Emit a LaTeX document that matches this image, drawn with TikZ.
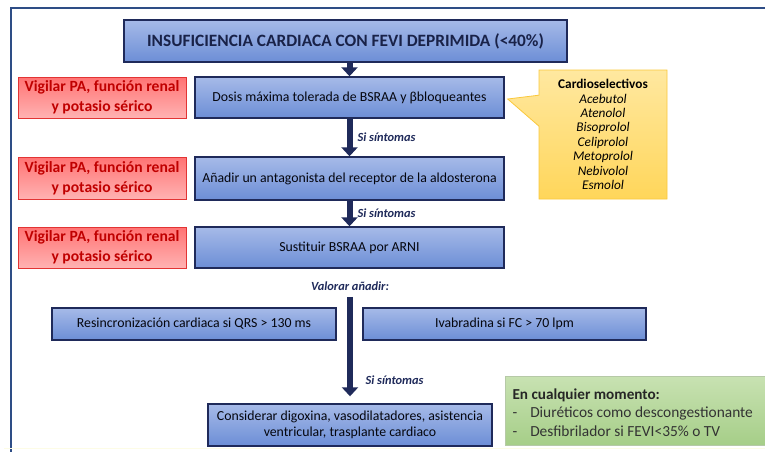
\documentclass[tikz,border=0pt]{standalone}
\usepackage{fontspec}
\setmainfont{Carlito}
\usetikzlibrary{arrows.meta,shapes.callouts}

\definecolor{navy}{RGB}{31,42,90}
\definecolor{framecol}{RGB}{46,77,134}
\definecolor{boxtop}{RGB}{166,186,232}
\definecolor{boxbot}{RGB}{108,142,214}
\definecolor{redtxt}{RGB}{192,0,0}
\definecolor{redline}{RGB}{226,52,52}
\definecolor{yeltop}{RGB}{255,232,160}
\definecolor{yelbot}{RGB}{255,214,90}
\definecolor{yelline}{RGB}{250,200,60}
\definecolor{grntop}{RGB}{200,226,178}
\definecolor{grnbot}{RGB}{166,206,136}

\tikzset{
  bluebox/.style={draw=navy, line width=1.4pt, top color=boxtop, bottom color=boxbot,
    text=black!85!navy, align=center, inner sep=0pt, font=\fontsize{13.8}{16}\selectfont},
  redbox/.style={draw=redline, line width=1pt, top color=red!55!white, middle color=red!12!white,
    bottom color=red!30!white, text=redtxt, align=center, inner sep=0pt,
    minimum width=168pt, font=\bfseries\fontsize{15.6}{20}\selectfont},
  flow/.style={-{Triangle[width=16pt,length=9pt]}, line width=6pt, navy},
  sitxt/.style={text=navy, font=\bfseries\itshape\fontsize{12.4}{14}\selectfont, anchor=west}
}

\begin{document}
\begin{tikzpicture}[x=1pt,y=-1pt]
    \useasboundingbox (0,0) rectangle (765,452);

    % Frame round the diagram
    \draw[framecol, line width=2.5pt] (11,452) -- (11,8) -- (770,8);
    \draw[black!8!yellow!10!white, line width=1pt] (4,448) -- (770,448);

    % Title
    \node[bluebox, minimum width=443pt, minimum height=42pt, line width=1.8pt,
      text=navy!80!black, font=\bfseries\fontsize{17.3}{19}\selectfont] (title) at (345.5,41)
      {INSUFICIENCIA CARDIACA CON FEVI DEPRIMIDA (<40\%)};

    % Main steps
    \node[bluebox, minimum width=309pt, minimum height=41pt] (dosis) at (349.5,97.5)
      {Dosis máxima tolerada de BSRAA y βbloqueantes};
    \node[bluebox, minimum width=309pt, minimum height=43pt] (antag) at (349.5,178.5)
      {Añadir un antagonista del receptor de la aldosterona};
    \node[bluebox, minimum width=309pt, minimum height=41pt] (arni) at (349.5,247.5)
      {Sustituir BSRAA por ARNI};

    % Red warnings on the left
    \node[redbox, minimum height=41pt] (vig1) at (102,97.5) {Vigilar PA, función renal\\y potasio sérico};
    \node[redbox, minimum height=42pt] (vig2) at (102,178) {Vigilar PA, función renal\\y potasio sérico};
    \node[redbox, minimum height=41pt] (vig3) at (102,247.5) {Vigilar PA, función renal\\y potasio sérico};

    % Beta blocker callout
    \node[rectangle callout, draw=yelline, line width=0.8pt, top color=yeltop, bottom color=yelbot,
      minimum width=128pt, minimum height=129pt, inner sep=0pt, align=center,
      callout absolute pointer={([xshift=3pt,yshift=-1.5pt]dosis.east)}, callout pointer width=31pt,
      font=\fontsize{13.3}{14.4}\selectfont] (cardio) at (603,134.5)
      {\textbf{Cardioselectivos}\\ \textit{Acebutol}\\ \textit{Atenolol}\\ \textit{Bisoprolol}\\
       \textit{Celiprolol}\\ \textit{Metoprolol}\\ \textit{Nebivolol}\\ \textit{Esmolol}};

    % Add-on options
    \node[text=navy, font=\bfseries\itshape\fontsize{12.4}{14}\selectfont] (valorar) at (350,286) {Valorar añadir:};
    \node[bluebox, minimum width=284pt, minimum height=32pt] (resin) at (194,324)
      {Resincronización cardiaca si QRS > 130 ms};
    \node[bluebox, minimum width=283pt, minimum height=32pt] (ivab) at (504.5,324)
      {Ivabradina si FC > 70 lpm};
    \node[bluebox, minimum width=284pt, minimum height=42pt, font=\fontsize{13.8}{16}\selectfont] (consid) at (350,425)
      {Considerar digoxina, vasodilatadores, asistencia\\ventricular, trasplante cardiaco};

    % Arrows
    \draw[flow] (title.south -| dosis.north) -- (dosis.north);
    \draw[flow] (dosis) -- (antag);
    \draw[flow] (antag) -- (arni);
    \draw[flow] ([yshift=-3pt]valorar.south) -- ([yshift=7pt]consid.north);

    % Labels on arrows
    \node[sitxt] (si1) at (354,137) {Si síntomas};
    \node[sitxt] (si2) at (354,213) {Si síntomas};
    \node[sitxt] (si3) at (362,380) {Si síntomas};

    % Green note
    \node[draw=grnbot!80!black!60!white, line width=0.6pt, top color=grntop, bottom color=grnbot,
      minimum width=263pt, minimum height=69pt, inner sep=0pt] (nota) at (636.5,410.5) {};
    \node[anchor=west, font=\bfseries\fontsize{15.2}{17}\selectfont, text=black!85] (nota0) at (509,395) {En cualquier momento:};
    \node[anchor=west, font=\fontsize{15.4}{17}\selectfont, text=black!80] (nota1) at (509,413)
      {-\hspace{13pt}Diuréticos como descongestionante};
    \node[anchor=west, font=\fontsize{15.4}{17}\selectfont, text=black!80] (nota2) at (509,431)
      {-\hspace{13pt}Desfibrilador si FEVI<35\% o TV};
\end{tikzpicture}
\end{document}
